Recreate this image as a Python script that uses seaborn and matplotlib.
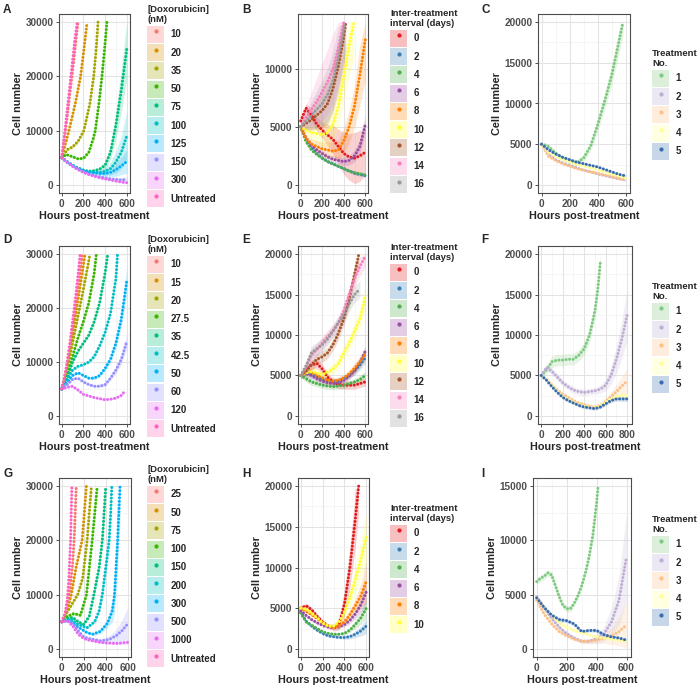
import numpy as np
import pandas as pd
import matplotlib
matplotlib.use("Agg")
import matplotlib.pyplot as plt
import seaborn as sns
from matplotlib.patches import Patch
from matplotlib.lines import Line2D

# ---------------- data ----------------
H50 = [0, 50, 100, 150, 200, 250, 300, 350, 400, 450, 500, 550, 600]
H50_800 = [0, 50, 100, 150, 200, 250, 300, 350, 400, 450, 500, 550, 600, 650, 700, 750, 800]

# A: doxorubicin dose series 1
A_levels = ["10", "20", "35", "50", "75", "100", "125", "150", "300", "Untreated"]
A_hours = [
    [0, 25, 50, 75, 100, 125, 150],
    [0, 67, 125, 174, 205, 234],
    [0, 50, 100, 150, 204, 260, 295, 318, 335],
    [0, 40, 100, 150, 200, 250, 290, 310, 343, 371, 395, 417],
    H50, H50, H50, H50, H50,
    [0, 30, 60, 90, 120, 143],
]
A_cells = [
    [5000, 8600, 12500, 16800, 21000, 25500, 30000],
    [5000, 10000, 15000, 20000, 25000, 30000],
    [5000, 6500, 7000, 8000, 10000, 15000, 20000, 25000, 30000],
    [5000, 5600, 5200, 4800, 4900, 6000, 8500, 10000, 15000, 20000, 25000, 30000],
    [5000, 4200, 3600, 3100, 2700, 2500, 2600, 2900, 3600, 6000, 11000, 17500, 25000],
    [5000, 4300, 3600, 3100, 2700, 2400, 2300, 2300, 2500, 3000, 4200, 6000, 9000],
    [5000, 4200, 3500, 3000, 2600, 2300, 2200, 2100, 2100, 2300, 2800, 3500, 4300],
    [5000, 4200, 3500, 2900, 2400, 2000, 1700, 1500, 1300, 1100, 1000, 900, 1000],
    [5000, 4200, 3400, 2800, 2300, 1900, 1600, 1300, 1100, 900, 700, 500, 400],
    [5000, 10000, 15500, 21000, 26500, 30000],
]
A_sd = [
    [150, 250, 350, 450, 550, 650, 700],
    [150, 300, 450, 600, 700, 800],
    [150, 250, 300, 350, 450, 600, 700, 800, 900],
    [150, 200, 200, 200, 250, 350, 500, 600, 800, 900, 1000, 1100],
    [100, 100, 150, 200, 200, 250, 300, 400, 700, 1300, 2600, 4000, 5500],
    [100, 100, 150, 150, 200, 200, 300, 400, 700, 1200, 2000, 3000, 4500],
    [100, 100, 150, 150, 200, 200, 250, 350, 500, 800, 1200, 1600, 2200],
    [100, 100, 100, 150, 150, 150, 200, 200, 250, 300, 350, 400, 500],
    [100, 100, 100, 100, 100, 100, 100, 100, 100, 100, 100, 100, 100],
    [150, 300, 450, 600, 750, 800],
]

# B: inter-treatment interval series 1
B_levels = ["0", "2", "4", "6", "8", "10", "12", "14", "16"]
B_hours = [
    H50, H50, H50, H50, H50,
    [0, 50, 100, 150, 200, 250, 300, 350, 400, 450, 495],
    [0, 50, 100, 150, 200, 250, 300, 350, 400, 420],
    [0, 50, 100, 150, 200, 250, 300, 350, 400],
    [0, 50, 100, 150, 200, 250, 300, 350, 400, 410],
]
B_cells = [
    [5500, 6600, 6000, 5200, 4700, 4300, 3900, 3300, 2700, 2400, 2300, 2500, 2800],
    [5000, 3900, 3200, 2700, 2300, 2000, 1800, 1600, 1400, 1200, 1000, 900, 800],
    [5000, 3700, 3000, 2600, 2300, 2000, 1800, 1600, 1400, 1200, 1050, 950, 850],
    [5000, 4000, 3400, 3000, 2700, 2400, 2200, 2100, 2000, 2100, 2500, 3300, 5200],
    [5000, 4000, 3500, 3300, 3100, 3000, 2900, 3000, 3800, 5000, 6800, 9500, 12500],
    [5000, 4700, 4500, 4400, 4300, 4500, 5200, 6800, 9300, 12000, 14000],
    [5000, 5300, 5600, 6000, 6400, 7000, 8300, 10200, 12700, 14000],
    [5000, 5800, 6500, 7200, 8000, 8900, 10000, 11800, 14000],
    [5000, 5500, 6000, 6500, 7000, 7800, 9000, 11000, 13300, 14000],
]
B_sd = [
    [400, 400, 500, 600, 700, 900, 1200, 1500, 1800, 2000, 2200, 2200, 2000],
    [100, 100, 100, 100, 100, 100, 100, 100, 120, 120, 150, 150, 150],
    [100, 100, 100, 100, 100, 100, 100, 100, 120, 120, 150, 150, 150],
    [150, 200, 200, 200, 250, 250, 300, 300, 350, 400, 500, 650, 800],
    [200, 300, 400, 500, 600, 700, 800, 900, 1100, 1400, 1800, 2600, 3500],
    [200, 400, 600, 800, 1000, 1200, 1400, 1700, 2000, 2500, 3000],
    [300, 600, 900, 1200, 1500, 1800, 2000, 2300, 2500, 2500],
    [500, 1000, 1500, 2000, 2500, 2800, 3000, 3200, 3200],
    [400, 800, 1200, 1600, 2000, 2300, 2500, 2600, 2600, 2600],
]

# C: treatment number series 1
C_levels = ["1", "2", "3", "4", "5"]
C_hours = [
    [0, 25, 50, 100, 150, 200, 250, 300, 350, 400, 450, 500, 550, 580],
    H50, H50, H50, H50,
]
C_cells = [
    [5000, 4900, 4700, 3900, 3300, 2900, 2700, 3300, 4800, 7400, 10300, 13500, 17500, 20000],
    [5000, 3800, 3100, 2700, 2400, 2100, 1800, 1600, 1350, 1150, 950, 750, 600],
    [5000, 3500, 3000, 2600, 2300, 2000, 1800, 1600, 1400, 1200, 1000, 800, 600],
    [5000, 4000, 3500, 3100, 2800, 2500, 2300, 2100, 1800, 1600, 1300, 1100, 800],
    [5000, 4300, 3800, 3400, 3100, 2800, 2600, 2400, 2200, 1900, 1600, 1300, 1100],
]
C_sd = [
    [200, 200, 250, 300, 300, 300, 350, 450, 600, 800, 1000, 1300, 1500, 1600],
    [100, 100, 100, 100, 100, 100, 100, 100, 100, 100, 100, 100, 150],
    [100, 150, 150, 150, 100, 100, 100, 100, 100, 100, 100, 100, 150],
    [100, 100, 100, 100, 100, 100, 100, 100, 100, 100, 100, 100, 150],
    [100, 100, 100, 100, 100, 100, 100, 100, 100, 100, 100, 100, 150],
]

# D: doxorubicin dose series 2
D_levels = ["10", "15", "20", "27.5", "35", "42.5", "50", "60", "120", "Untreated"]
D_hours = [
    [0, 25, 50, 75, 100, 125, 150, 175, 190],
    [0, 50, 100, 150, 200, 215],
    [0, 50, 100, 150, 200, 250, 260],
    [0, 50, 100, 150, 200, 250, 300, 320],
    [0, 50, 100, 150, 200, 250, 300, 350, 400, 425],
    [0, 50, 100, 150, 200, 250, 300, 350, 400, 450, 500, 515],
    H50, H50,
    [0, 50, 100, 150, 200, 250, 300, 350, 400, 450, 500, 550, 570],
    [0, 25, 50, 75, 100, 125, 150, 170],
]
D_cells = [
    [5000, 6800, 9500, 12500, 16000, 19500, 23500, 27500, 30000],
    [5000, 9000, 15000, 21500, 28000, 30000],
    [5000, 8500, 13500, 18500, 23500, 28800, 30000],
    [5000, 7500, 11000, 14500, 17500, 21000, 26500, 30000],
    [5000, 7000, 10000, 12000, 13500, 15000, 17500, 21000, 26500, 30000],
    [5000, 6800, 8500, 9200, 9500, 10000, 11000, 13000, 15500, 19000, 25500, 30000],
    [5000, 6300, 7500, 8000, 7500, 7000, 7000, 7500, 8800, 10500, 13500, 18000, 25000],
    [5000, 5800, 6800, 7000, 6300, 5800, 5500, 5500, 5800, 7000, 8500, 10500, 13800],
    [5000, 5300, 5500, 4800, 4000, 3700, 3400, 3200, 3000, 3100, 3300, 3800, 4300],
    [5000, 7000, 10000, 13500, 17500, 21500, 26000, 30000],
]
D_sd = [
    [150, 200, 300, 400, 500, 600, 700, 800, 800],
    [150, 300, 500, 700, 800, 800],
    [150, 300, 400, 500, 600, 700, 700],
    [150, 250, 350, 400, 450, 500, 600, 600],
    [150, 200, 300, 300, 350, 400, 450, 500, 600, 600],
    [150, 200, 250, 250, 250, 300, 300, 350, 400, 500, 600, 600],
    [150, 200, 200, 200, 200, 200, 250, 300, 400, 600, 900, 1500, 2500],
    [150, 200, 200, 200, 200, 200, 200, 250, 300, 400, 600, 900, 1400],
    [150, 150, 150, 150, 150, 150, 150, 150, 150, 150, 150, 200, 200],
    [150, 200, 300, 400, 500, 600, 700, 800],
]

# E: inter-treatment interval series 2
E_levels = ["0", "2", "4", "6", "8", "10", "12", "14", "16"]
E_hours = [
    H50, H50, H50, H50, H50, H50,
    [0, 50, 100, 150, 200, 250, 300, 350, 400, 450, 500, 540],
    H50,
    [0, 50, 100, 150, 200, 250, 300, 350, 400, 450, 500, 550],
]
E_cells = [
    [5000, 5800, 6300, 6500, 5800, 4800, 4200, 3900, 3800, 3800, 3800, 4000, 4200],
    [5000, 5300, 5100, 4800, 4500, 4300, 4200, 4300, 4600, 5000, 5600, 6300, 7200],
    [5000, 4600, 4200, 4000, 3800, 3700, 3600, 3700, 3800, 4000, 4200, 4500, 5000],
    [5000, 5200, 5000, 4600, 4300, 4100, 4000, 4100, 4400, 4900, 5600, 6600, 8000],
    [5000, 5500, 5400, 5000, 4700, 4400, 4300, 4400, 4700, 5200, 5900, 6700, 7600],
    [5000, 5300, 5500, 5300, 5100, 5400, 5800, 6500, 7800, 9000, 10500, 12000, 14800],
    [5000, 5500, 6300, 7000, 7300, 7800, 8800, 10200, 12000, 14500, 17500, 20000],
    [5000, 6000, 7500, 8200, 9000, 9800, 10500, 11500, 13000, 15000, 17000, 18500, 19700],
    [5000, 6200, 7800, 8300, 8800, 9500, 10500, 11500, 12500, 13800, 15000, 15700],
]
E_sd = [
    [400, 500, 600, 600, 600, 500, 500, 500, 500, 500, 500, 500, 500],
    [300, 400, 400, 400, 400, 400, 400, 400, 400, 400, 500, 600, 700],
    [300, 400, 400, 400, 400, 400, 400, 400, 400, 400, 400, 500, 500],
    [300, 400, 400, 400, 400, 400, 400, 400, 400, 400, 500, 600, 700],
    [300, 400, 400, 400, 400, 400, 400, 400, 400, 500, 600, 700, 800],
    [300, 400, 500, 500, 500, 500, 600, 700, 800, 900, 1000, 1200, 1400],
    [300, 500, 600, 700, 700, 700, 700, 800, 900, 1000, 1200, 1200],
    [400, 600, 800, 800, 800, 800, 800, 800, 900, 1000, 1100, 1200, 1300],
    [400, 600, 800, 800, 800, 800, 800, 800, 900, 900, 1000, 1000],
]

# F: treatment number series 2
F_levels = ["1", "2", "3", "4", "5"]
F_hours = [
    [0, 50, 100, 150, 200, 250, 300, 350, 400, 450, 500, 525, 550],
    H50_800, H50_800, H50_800, H50_800,
]
F_cells = [
    [5000, 5700, 6700, 6900, 6900, 7000, 7000, 7500, 8300, 10000, 13000, 15500, 19000],
    [5000, 6000, 5500, 4800, 4100, 3600, 3200, 3000, 2900, 3000, 3100, 3300, 3800, 5000, 7000, 9500, 12500],
    [5000, 4500, 3800, 3200, 2700, 2300, 1900, 1600, 1400, 1200, 1100, 1300, 1800, 2400, 3000, 3700, 4300],
    [5000, 4500, 3700, 3000, 2400, 2000, 1700, 1400, 1200, 1100, 1000, 1300, 1700, 2100, 2400, 2500, 2500],
    [5000, 4400, 3600, 2900, 2300, 1900, 1600, 1300, 1100, 1000, 900, 1100, 1500, 1900, 2100, 2100, 2100],
]
F_sd = [
    [300, 500, 700, 700, 700, 700, 700, 700, 800, 900, 1000, 1000, 1000],
    [300, 400, 400, 400, 400, 400, 400, 400, 400, 400, 400, 500, 700, 1100, 1700, 2400, 3200],
    [200, 200, 200, 200, 200, 200, 200, 200, 200, 200, 200, 300, 400, 600, 900, 1200, 1600],
    [200, 200, 200, 200, 200, 200, 200, 200, 200, 200, 200, 200, 250, 300, 350, 400, 400],
    [200, 200, 200, 200, 200, 200, 200, 200, 200, 200, 200, 200, 200, 250, 250, 300, 300],
]

# G: doxorubicin dose series 3
G_levels = ["25", "50", "75", "100", "150", "200", "300", "500", "1000", "Untreated"]
G_hours = [
    [0, 25, 50, 75, 100, 115, 132],
    [0, 50, 86, 130, 185, 205, 224],
    [0, 50, 100, 145, 190, 231, 250, 270],
    [0, 50, 110, 170, 225, 277, 300, 323],
    [0, 50, 100, 150, 200, 250, 292, 340, 369, 385, 400],
    [0, 80, 150, 230, 300, 340, 369, 400, 431, 445, 455],
    [0, 60, 150, 230, 280, 350, 415, 460, 480, 508, 530],
    H50, H50,
    [0, 30, 50, 65, 80, 92],
]
G_cells = [
    [5000, 6000, 8000, 11000, 16000, 21000, 30000],
    [5000, 7000, 10000, 15000, 20000, 25000, 30000],
    [5000, 6800, 8500, 10000, 13000, 20000, 25000, 30000],
    [5000, 6000, 6500, 6200, 10000, 20000, 25000, 30000],
    [5000, 5600, 5800, 5000, 4500, 6000, 10000, 15000, 20000, 25000, 30000],
    [5000, 5500, 4500, 3900, 5000, 7000, 10000, 15000, 20000, 25000, 30000],
    [5000, 5300, 4000, 3000, 2700, 3200, 4700, 7000, 10000, 20000, 30000],
    [5000, 5200, 4700, 3300, 2200, 1900, 1700, 1500, 1600, 1900, 2500, 3400, 4600],
    [5000, 5200, 4200, 2700, 1900, 1600, 1400, 1200, 1100, 1050, 1000, 1100, 1200],
    [5000, 6500, 9000, 13000, 20000, 30000],
]
G_sd = [
    [150, 250, 350, 450, 550, 600, 600],
    [150, 300, 400, 500, 600, 700, 700],
    [150, 250, 350, 400, 500, 600, 700, 700],
    [150, 250, 300, 300, 400, 600, 700, 700],
    [150, 200, 250, 250, 250, 400, 700, 1000, 1300, 1500, 1500],
    [150, 200, 200, 200, 300, 500, 900, 1500, 2200, 2500, 2500],
    [150, 200, 200, 200, 250, 400, 800, 2000, 3500, 5000, 6500],
    [150, 150, 150, 150, 150, 150, 200, 300, 500, 800, 1300, 2000, 3000],
    [150, 150, 150, 150, 150, 150, 150, 150, 150, 150, 200, 250, 300],
    [150, 300, 400, 500, 600, 600],
]

# H: inter-treatment interval series 3
H_levels = ["0", "2", "4", "6", "8", "10"]
H_hours = [
    [0, 50, 100, 150, 200, 250, 300, 350, 400, 450, 500, 530],
    H50, H50, H50, H50, H50,
]
H_cells = [
    [5000, 5300, 4800, 4000, 3300, 2800, 2600, 3000, 5500, 10000, 16000, 20000],
    [4500, 3400, 2800, 2300, 1900, 1600, 1500, 1400, 1400, 1500, 1800, 2200, 2800],
    [4400, 3300, 2900, 2500, 2100, 1900, 1800, 1800, 1900, 2300, 3000, 3800, 5000],
    [4700, 4100, 3600, 3200, 2900, 2700, 2600, 2700, 3000, 3500, 4300, 5400, 7000],
    [5000, 4600, 4200, 3700, 3200, 2800, 2600, 2800, 3300, 4200, 5300, 6500, 8300],
    [5000, 4900, 4400, 3800, 3200, 2800, 2800, 3300, 4500, 6300, 8500, 11000, 13700],
]
H_sd = [
    [300, 300, 300, 300, 300, 300, 400, 700, 1500, 2500, 3500, 3500],
    [200, 200, 200, 200, 150, 150, 150, 150, 200, 300, 400, 600, 900],
    [200, 200, 200, 200, 150, 150, 150, 150, 200, 300, 500, 800, 1200],
    [200, 200, 200, 200, 200, 200, 200, 200, 300, 400, 600, 900, 1500],
    [200, 200, 200, 200, 200, 200, 200, 300, 400, 600, 900, 1500, 2500],
    [200, 200, 200, 200, 200, 200, 300, 400, 700, 1100, 1600, 2300, 3000],
]

# I: treatment number series 3
I_levels = ["1", "2", "3", "4", "5"]
I_hours = [
    [0, 25, 50, 75, 100, 125, 150, 175, 200, 225, 250, 275, 300, 325, 350, 375, 400, 410],
    H50, H50, H50, H50,
]
I_cells = [
    [6200, 6500, 6700, 7000, 6800, 5800, 4800, 4000, 3700, 3700, 4200, 4900, 5800, 7000, 8500, 10500, 13500, 15000],
    [4800, 3800, 2800, 2000, 1400, 1000, 700, 700, 900, 1400, 2500, 4500, 8500],
    [4500, 3200, 2300, 1600, 1200, 900, 700, 700, 800, 1000, 1200, 1600, 2200],
    [4700, 3800, 3100, 2400, 2000, 1700, 1500, 1300, 1100, 1000, 900, 800, 700],
    [4700, 3800, 3100, 2700, 2600, 2300, 1600, 1700, 1700, 1300, 1100, 1000, 800],
]
I_sd = [
    [300, 300, 300, 300, 300, 300, 300, 300, 300, 300, 300, 300, 300, 300, 400, 500, 600, 600],
    [200, 200, 200, 200, 200, 200, 200, 250, 400, 700, 1300, 2300, 4000],
    [200, 200, 200, 200, 150, 150, 150, 200, 300, 500, 800, 1300, 2200],
    [200, 200, 200, 200, 150, 150, 150, 150, 150, 150, 150, 150, 150],
    [200, 200, 200, 200, 150, 150, 150, 150, 150, 150, 150, 150, 150],
]

HUE10 = ["#F8766D", "#D89000", "#A3A500", "#39B600", "#00BF7D",
         "#00BFC4", "#00B0F6", "#9590FF", "#E76BF3", "#FF62BC"]
SET1 = ["#E41A1C", "#377EB8", "#4DAF4A", "#984EA3", "#FF7F00",
        "#FFFF33", "#A65628", "#F781BF", "#999999"]
ACCENT = ["#7FC97F", "#BEAED4", "#FDC086", "#FFFF99", "#386CB0"]

DOSE_TITLE = "[Doxorubicin]\n(nM)"
ITI_TITLE = "Inter-treatment\ninterval (days)"
TRT_TITLE = "Treatment\nNo."

# ---------------- style ----------------
sns.set_style("white")
plt.rcParams["font.family"] = ["Liberation Sans", "DejaVu Sans"]
plt.rcParams["font.weight"] = "bold"
plt.rcParams["axes.labelweight"] = "bold"

W, H = 700, 688
fig = plt.figure(figsize=(W / 100, H / 100), dpi=100)


def px_axes(x0, x1, y0, y1):
    return fig.add_axes([x0 / W, 1 - y1 / H, (x1 - x0) / W, (y1 - y0) / H])


def panel(ax, levels, hours, cells, sd, colors, ycap, xlim, ylim, xticks, yticks,
          title, leg_xy, letter, letter_xy):
    rows = []
    for lev, hh, cc in zip(levels, hours, cells):
        for h, c in zip(hh, cc):
            rows.append({"hours": h, "cells": c, "group": lev})
    df = pd.DataFrame(rows)
    pal = dict(zip(levels, colors))
    for lev, hh, cc, ss in zip(levels, hours, cells, sd):
        hh, cc, ss = np.array(hh), np.array(cc), np.array(ss)
        ax.fill_between(hh, np.clip(cc - ss, None, ycap), np.clip(cc + ss, None, ycap),
                        color=pal[lev], alpha=0.2, lw=0, zorder=1)
    sns.lineplot(data=df, x="hours", y="cells", hue="group", hue_order=levels,
                 palette=pal, estimator=None, legend=False, ax=ax,
                 linewidth=2.2, linestyle=(0, (0.01, 1.15)), dash_capstyle="round", zorder=3)
    ax.set_xlim(*xlim)
    ax.set_ylim(*ylim)
    ax.set_xticks(xticks)
    ax.set_yticks(yticks)
    ax.set_xticks([(a + b) / 2 for a, b in zip(xticks[:-1], xticks[1:])], minor=True)
    ax.set_yticks([(a + b) / 2 for a, b in zip(yticks[:-1], yticks[1:])], minor=True)
    ax.grid(which="major", color="#E3E3E3", lw=0.75, zorder=0)
    ax.grid(which="minor", color="#F1F1F1", lw=0.5, zorder=0)
    ax.set_axisbelow(True)
    for s in ax.spines.values():
        s.set_color("#4D4D4D")
        s.set_linewidth(0.8)
    ax.tick_params(which="major", direction="out", length=2.5, width=0.6, color="#333333",
                   labelsize=7.2, labelcolor="#4D4D4D", pad=1.5, left=True, bottom=True)
    ax.tick_params(which="minor", length=0)
    ax.set_xlabel("Hours post-treatment", fontsize=7.8, labelpad=1.5)
    ax.set_ylabel("Cell number", fontsize=7.8, labelpad=2)
    handles = [(Patch(facecolor=c, alpha=0.28, edgecolor="none"),
                Line2D([], [], marker="o", ms=2.0, lw=0, color=c)) for c in colors]
    leg = ax.legend(handles, levels, title=title, loc="upper left",
                    bbox_to_anchor=(leg_xy[0] / W, 1 - leg_xy[1] / H),
                    bbox_transform=fig.transFigure, frameon=False, fontsize=7,
                    title_fontsize=6.8, handlelength=1.75, handleheight=2.3,
                    handletextpad=0.7, labelspacing=0.14, borderpad=0, borderaxespad=0,
                    alignment="left")
    leg.get_title().set_fontweight("bold")
    fig.text(letter_xy[0] / W, 1 - letter_xy[1] / H, letter, fontsize=8.5,
             fontweight="bold", va="center", ha="left")


X600 = [0, 200, 400, 600]
X800 = [0, 200, 400, 600, 800]
Y30 = [0, 10000, 20000, 30000]
Y20 = [0, 5000, 10000, 15000, 20000]
Y14 = [0, 5000, 10000]
Y15 = [0, 5000, 10000, 15000]

axA = px_axes(59, 130, 14, 193)
panel(axA, A_levels, A_hours, A_cells, A_sd, HUE10, 30000, (-25, 630), (-1500, 31500),
      X600, Y30, DOSE_TITLE, (147, 5), "A", (3, 10))
axB = px_axes(298, 368, 14, 193)
panel(axB, B_levels, B_hours, B_cells, B_sd, SET1, 14000, (-25, 625), (-700, 14700),
      X600, Y14, ITI_TITLE, (390, 9), "B", (242, 10))
axC = px_axes(538, 630, 14, 193)
panel(axC, C_levels, C_hours, C_cells, C_sd, ACCENT, 20000, (-25, 630), (-1000, 21000),
      X600, Y20, TRT_TITLE, (652, 49), "C", (481, 10))

axD = px_axes(59, 130, 246, 424)
panel(axD, D_levels, D_hours, D_cells, D_sd, HUE10, 30000, (-25, 630), (-1500, 31500),
      X600, Y30, DOSE_TITLE, (147, 235), "D", (3, 240))
axE = px_axes(298, 368, 246, 424)
panel(axE, E_levels, E_hours, E_cells, E_sd, SET1, 20000, (-25, 625), (-1000, 21000),
      X600, Y20, ITI_TITLE, (390, 243), "E", (242, 240))
axF = px_axes(538, 632, 246, 424)
panel(axF, F_levels, F_hours, F_cells, F_sd, ACCENT, 20000, (-30, 845), (-1000, 21000),
      X800, Y20, TRT_TITLE, (652, 282), "F", (481, 240))

axG = px_axes(59, 131, 478, 657)
panel(axG, G_levels, G_hours, G_cells, G_sd, HUE10, 30000, (-25, 630), (-1500, 31500),
      X600, Y30, DOSE_TITLE, (147, 465), "G", (3, 474))
axH = px_axes(298, 369, 478, 657)
panel(axH, H_levels, H_hours, H_cells, H_sd, SET1, 20000, (-25, 625), (-1000, 21000),
      X600, Y20, ITI_TITLE, (390, 504), "H", (242, 474))
axI = px_axes(533, 631, 478, 657)
panel(axI, I_levels, I_hours, I_cells, I_sd, ACCENT, 15000, (-25, 630), (-750, 15750),
      X600, Y15, TRT_TITLE, (652, 515), "I", (481, 474))

fig.savefig("out.png", dpi=100)
